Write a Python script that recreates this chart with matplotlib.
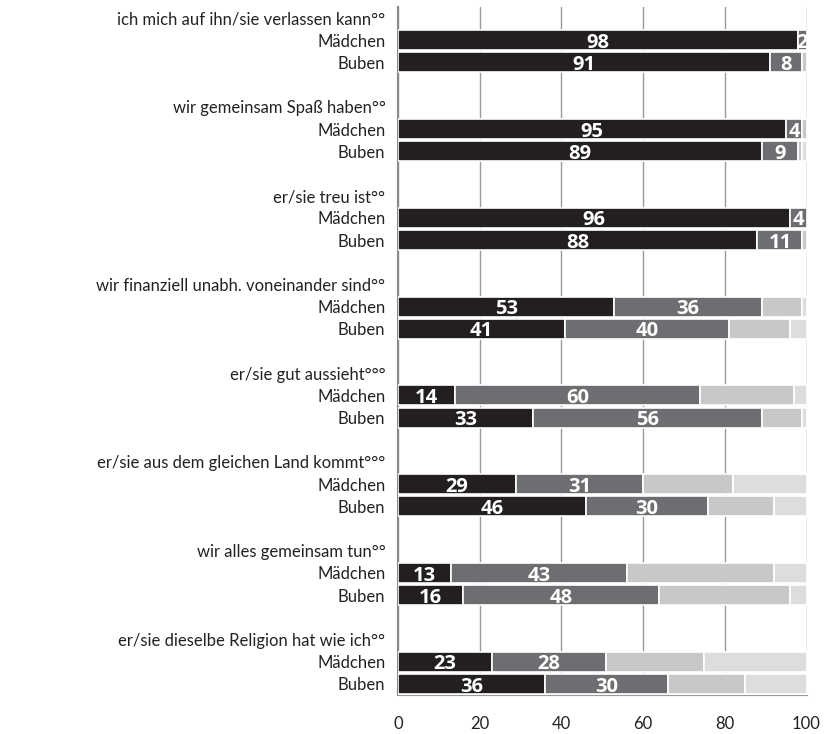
import matplotlib
matplotlib.use("Agg")
import matplotlib.pyplot as plt
import numpy as np

plt.rcParams['font.family'] = ['Lato', 'DejaVu Sans']

# Kategorien (Gruppen-Überschriften)
headers = [
    "ich mich auf ihn/sie verlassen kann°°",
    "wir gemeinsam Spaß haben°°",
    "er/sie treu ist°°",
    "wir finanziell unabh. voneinander sind°°",
    "er/sie gut aussieht°°°",
    "er/sie aus dem gleichen Land kommt°°°",
    "wir alles gemeinsam tun°°",
    "er/sie dieselbe Religion hat wie ich°°",
]

# je Gruppe: [Mädchen, Buben]
sehr_wichtig = [[98, 91], [95, 89], [96, 88], [53, 41], [14, 33], [29, 46], [13, 16], [23, 36]]
eher_wichtig = [[2, 8], [4, 9], [4, 11], [36, 40], [60, 56], [31, 30], [43, 48], [28, 30]]
eher_nicht = [[0, 1], [1, 1], [0, 1], [10, 15], [23, 10], [22, 16], [36, 32], [24, 19]]
gar_nicht = [[0, 0], [0, 1], [0, 0], [1, 4], [3, 1], [18, 8], [8, 4], [25, 15]]

gruppen = ["Mädchen", "Buben"]
farben = ["#231f20", "#6d6e71", "#c7c8ca", "#dcddde"]

fig = plt.figure(figsize=(8.26, 7.34), dpi=100)
ax = fig.add_axes([0.4818, 0.0531, 0.4946, 0.9374])

ypos, ylabels = [], []
rows = []
for g, h in enumerate(headers):
    ypos.append(4 * g)
    ylabels.append(h)
    for k, name in enumerate(gruppen):
        ypos.append(4 * g + 1 + k)
        ylabels.append(name)
        rows.append((4 * g + 1 + k, g, k))

series = [sehr_wichtig, eher_wichtig, eher_nicht, gar_nicht]
for y, g, k in rows:
    left = 0
    for s, data in enumerate(series):
        v = data[g][k]
        if v > 0:
            ax.barh(y, v, left=left, height=0.9, color=farben[s],
                    edgecolor="white", linewidth=1.2, zorder=3)
            if s < 2:
                ax.text(left + v / 2, y + 0.12, str(v), ha="center", va="center",
                        color="white", fontsize=14.5, fontweight="bold",
                        family=["Open Sans", "DejaVu Sans"], zorder=4)
        left += v

ax.set_xlim(0, 100)
ax.set_ylim(30.5, -0.5)
ax.set_xticks([0, 20, 40, 60, 80, 100])
ax.set_yticks(ypos)
ax.set_yticklabels(ylabels, fontsize=12, color="#222222")
ax.tick_params(axis="both", length=0)
ax.tick_params(axis="y", pad=9)
ax.tick_params(axis="x", pad=15, labelsize=12, labelcolor="#222222")
ax.grid(axis="x", color="#9a9a9a", linewidth=1, zorder=0)
for side in ["top", "right"]:
    ax.spines[side].set_visible(False)
ax.spines["left"].set_color("#8a8a8a")
ax.spines["left"].set_linewidth(1.5)
ax.spines["bottom"].set_color("#9a9a9a")

plt.savefig("out.png", dpi=100)
